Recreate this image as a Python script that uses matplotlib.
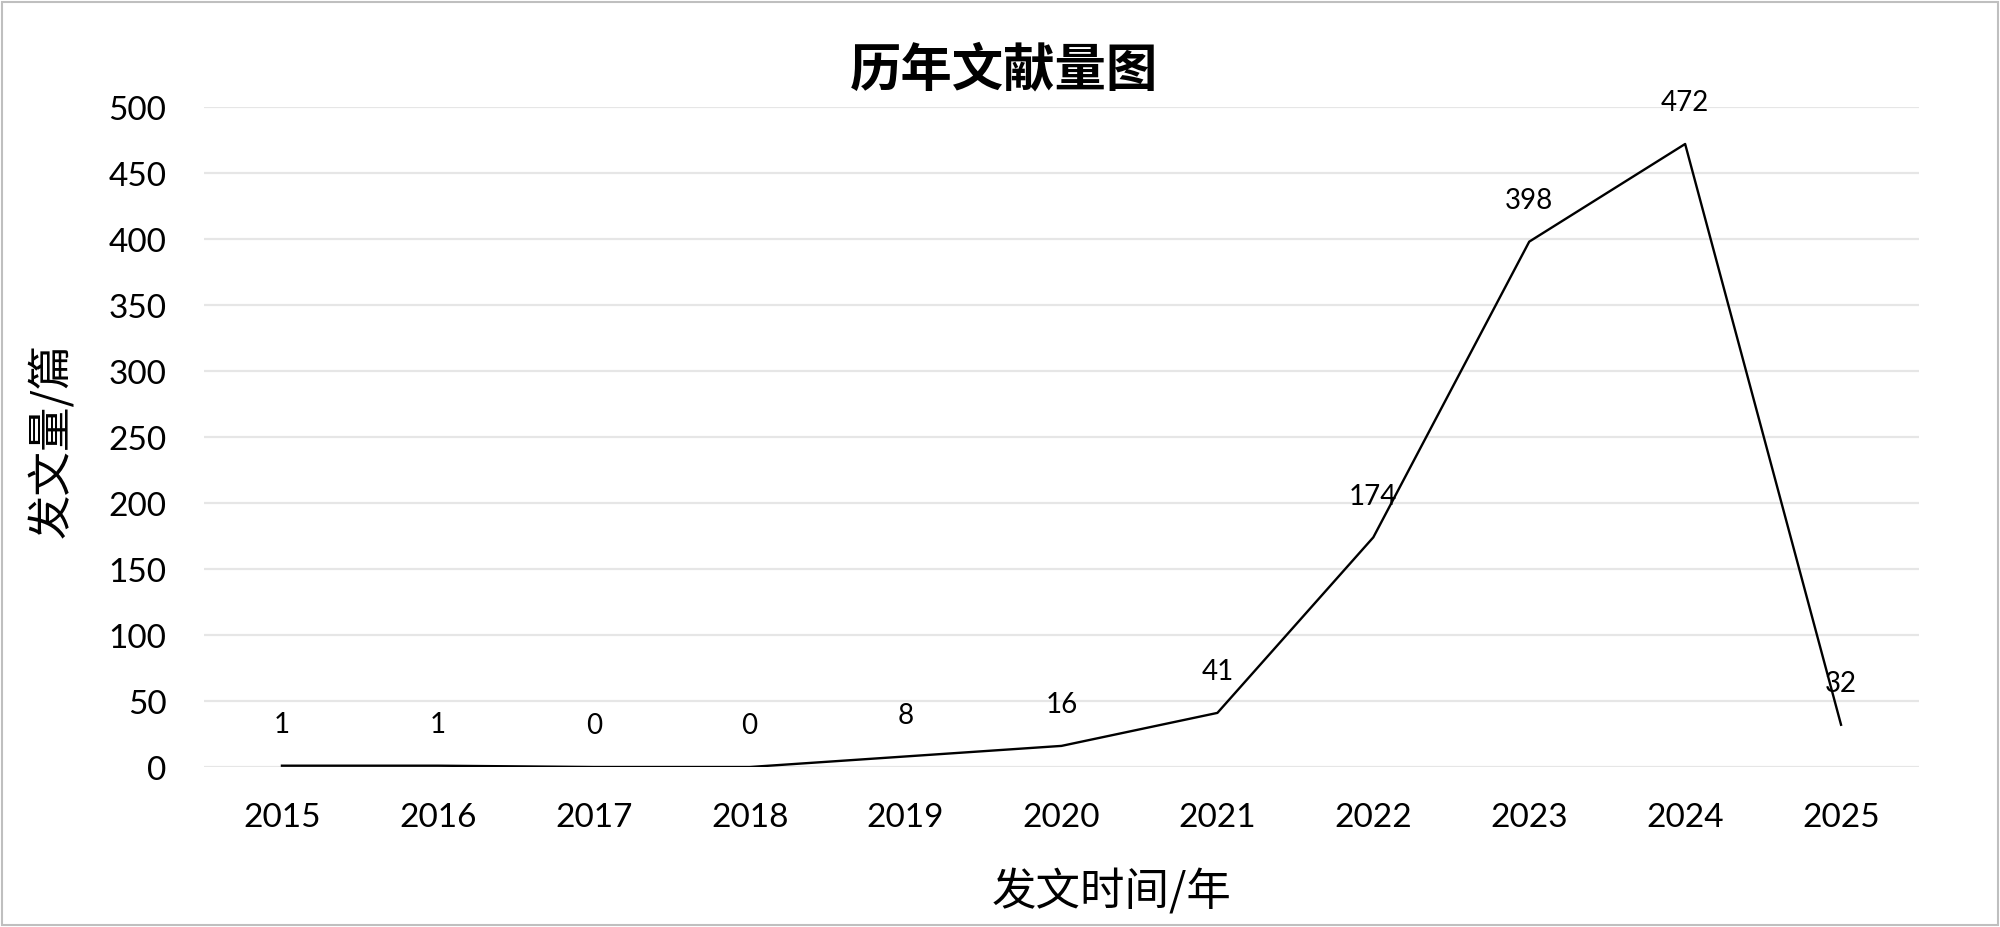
import matplotlib
matplotlib.use("Agg")
import matplotlib.pyplot as plt
from matplotlib.patches import Rectangle

years = ["2015", "2016", "2017", "2018", "2019", "2020", "2021", "2022", "2023", "2024", "2025"]
counts = [1, 1, 0, 0, 8, 16, 41, 174, 398, 472, 32]
yticks = [0, 50, 100, 150, 200, 250, 300, 350, 400, 450, 500]

plt.rcParams['font.family'] = ['Lato', 'Noto Sans CJK SC', 'DejaVu Sans']

fig = plt.figure(figsize=(20, 9.28), dpi=100)
ax = fig.add_axes([0.102, 0.1724, 0.8575, 0.7112])

x = list(range(len(years)))
ax.plot(x, counts, color='black', linewidth=1.7)

for xi, v in zip(x, counts):
    ax.annotate(str(v), (xi, v), xytext=(0, 30), textcoords='offset points',
                ha='center', va='center', fontsize=20, color='black')

ax.set_xlim(-0.5, len(years) - 0.5)
ax.set_ylim(0, 500)
ax.set_xticks(x)
ax.set_xticklabels(years)
ax.set_yticks(yticks)
ax.tick_params(axis='x', length=0, pad=25, labelsize=24)
ax.tick_params(axis='y', length=0, pad=27, labelsize=24)
ax.grid(axis='y', color='#e6e6e6', linewidth=1.6)
ax.set_axisbelow(True)
for s in ax.spines.values():
    s.set_visible(False)

fig.text(0.502, 0.925, "历年文献量图", ha='center', va='center',
         fontsize=37, fontweight='bold', family=['Noto Sans CJK SC'])
fig.text(0.556, 0.038, "发文时间/年", ha='center', va='center',
         fontsize=32, family=['Noto Sans CJK SC', 'DejaVu Sans'])
fig.text(0.026, 0.525, "发文量/篇", ha='center', va='center', rotation=90,
         fontsize=32, family=['Noto Sans CJK SC', 'DejaVu Sans'])

fig.patches.append(Rectangle((0.0008, 0.002), 0.998, 0.995, transform=fig.transFigure,
                             fill=False, edgecolor='#bfbfbf', linewidth=1.5))

fig.savefig("out.png", dpi=100)
